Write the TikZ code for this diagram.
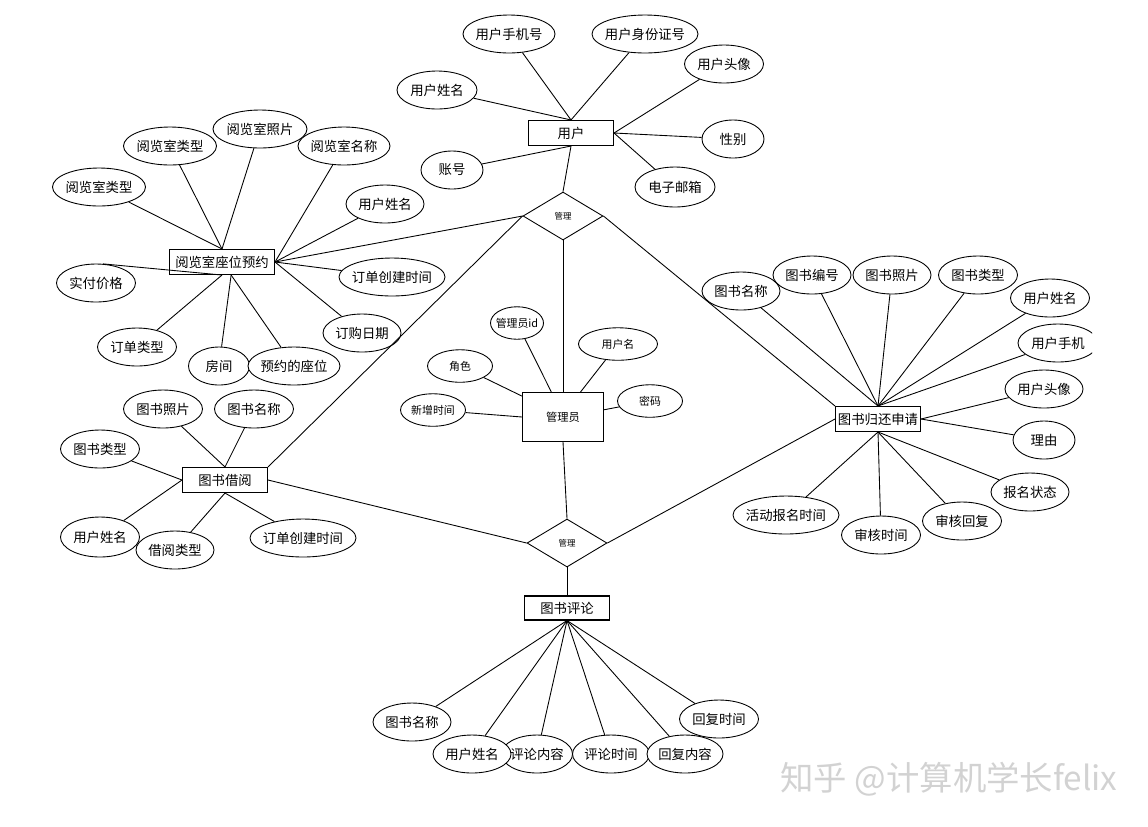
\documentclass[tikz,border=0pt]{standalone}
\usepackage{fontspec}
\setmainfont{Noto Sans CJK SC}
\usetikzlibrary{positioning}
\usetikzlibrary{shapes.geometric}

\tikzset{
  attr/.style={ellipse, draw, fill=white, line width=0.5pt, inner xsep=-2pt, inner ysep=0pt,
    minimum width=#1*0.02cm, minimum height=0.76cm, font=\fontsize{7.6}{8}\selectfont},
  attr/.default=79,
  sattr/.style={attr=#1, minimum height=0.65cm, font=\fontsize{6.2}{7}\selectfont},
  sattr/.default=79,
  ent/.style={rectangle, draw, fill=white, line width=0.6pt, inner sep=0pt,
    minimum width=1.7cm, minimum height=0.5cm, font=\fontsize{7.6}{8}\selectfont},
  rel/.style={diamond, draw, fill=white, line width=0.5pt, inner sep=0pt,
    minimum width=1.6cm, minimum height=0.96cm, font=\fontsize{4.8}{5}\selectfont},
  link/.style={line width=0.5pt},
}

\begin{document}
\begin{tikzpicture}[x=0.02cm, y=-0.02cm]
    \useasboundingbox (0,0) rectangle (1148,826);

    % entities and relations
    \node[ent] (user) at (571,133) {用户};
    \node[rel] (m1) at (563,216) {管理};
    \node[ent, minimum width=1.62cm, minimum height=0.98cm, font=\fontsize{6.4}{7}\selectfont] (admin) at (563,417) {管理员};
    \node[rel] (m2) at (567,543) {管理};
    \node[ent, minimum width=2.1cm] (rs) at (222,262) {阅览室座位预约};
    \node[ent] (br) at (225,480) {图书借阅};
    \node[ent] (rt) at (878,419) {图书归还申请};
    \node[ent, minimum height=0.48cm] (cm) at (567,608) {图书评论};

    % user
    \node[attr=92] (u1) at (509,34) {用户手机号};
    \node[attr=106] (u2) at (645,34) {用户身份证号};
    \node[attr] (u3) at (724,64) {用户头像};
    \node[attr=80] (u4) at (437,90) {用户姓名};
    \node[attr=62] (u5) at (733,139) {性别};
    \node[attr=62] (u6) at (452,170) {账号};
    \node[attr=80, minimum height=0.8cm] (u7) at (675,187) {电子邮箱};

    % reading room
    \node[attr=93] (r1) at (170,146) {阅览室类型};
    \node[attr=94] (r2) at (260,129) {阅览室照片};
    \node[attr=92] (r3) at (344,146) {阅览室名称};
    \node[attr=93] (r4) at (99,187) {阅览室类型};
    \node[attr=78] (r5) at (385,204) {用户姓名};
    \node[attr=106] (r6) at (392,277) {订单创建时间};
    \node[attr] (r7) at (96,283) {实付价格};
    \node[attr=78] (r8) at (362,333) {订购日期};
    \node[attr] (r9) at (137,347) {订单类型};
    \node[attr=61] (r10) at (219,366) {房间};
    \node[attr=92] (r11) at (294,366) {预约的座位};

    % admin
    \node[sattr=53] (a1) at (517,323) {管理员id};
    \node[sattr] (a2) at (618,344) {用户名};
    \node[sattr=65] (a3) at (460,366) {角色};
    \node[sattr=65] (a4) at (433,410) {新增时间};
    \node[sattr=65] (a5) at (650,401) {密码};

    % borrow
    \node[attr] (b1) at (163,409) {图书照片};
    \node[attr] (b2) at (254,409) {图书名称};
    \node[attr] (b3) at (100,449) {图书类型};
    \node[attr, minimum height=0.8cm] (b4) at (100,537) {用户姓名};
    \node[attr=78] (b5) at (175,550) {借阅类型};
    \node[attr=106] (b6) at (303,538) {订单创建时间};

    % return
    \node[attr=78] (t2) at (812,275) {图书编号};
    \node[attr=78] (t1) at (741,291) {图书名称};
    \node[attr=78] (t3) at (892,275) {图书照片};
    \node[attr] (t4) at (978,275) {图书类型};
    \node[attr] (t5) at (1050,298) {用户姓名};
    \begin{scope}
        \clip (0,0) rectangle (1092,826);
        \node[attr=80] (t6) at (1058,343) {用户手机};
    \end{scope}
    \node[attr=78] (t7) at (1044,389) {用户头像};
    \node[attr=62] (t8) at (1044,440) {理由};
    \node[attr=78] (t9) at (1030,492) {报名状态};
    \node[attr] (t10) at (962,521) {审核回复};
    \node[attr] (t11) at (881,535) {审核时间};
    \node[attr=106] (t12) at (786,515) {活动报名时间};

    % comment
    \node[attr=71] (c3) at (537,754) {评论内容};
    \node[attr=78] (c1) at (412,722) {图书名称};
    \node[attr=78] (c2) at (472,754) {用户姓名};
    \node[attr=77] (c4) at (611,754) {评论时间};
    \node[attr] (c6) at (719,719) {回复时间};
    \node[attr=76] (c5) at (685,754) {回复内容};

    \node[text=gray!35, font=\fontsize{19}{20}\selectfont] (wm) at (949,779) {知乎 @计算机学长felix};

    % links
    \draw[link] (user.south) -- (m1.north);
    \draw[link] (m1.south) -- (admin.north);
    \draw[link] (m1.west) -- (rs.east);
    \draw[link] (m1.west) -- (br.north east);
    \draw[link] (m1.east) -- (rt.north west);
    \draw[link] (admin.south) -- (m2.north);
    \draw[link] (m2.west) -- (br.east);
    \draw[link] (m2.east) -- (rt.west);
    \draw[link] (m2.south) -- (cm.north);

    \foreach \a/\b in {u1/user.north, u2/user.north, u4/user.north, u3/user.east,
        u5/user.east, u7/user.east, u6/user.south,
        r1/rs.north, r2/rs.north, r4/rs.north, r3/rs.east, r5/rs.east, r6/rs.east,
        r8/rs.east, r7.70/rs.south, r9/rs.south, r10/rs.-55, r11/rs.-55,
        a1/admin.115, a2/admin.55, a3/admin.153, a4/admin.west, a5/admin.10,
        b1/br.north, b2/br.north, b3/br.west, b4/br.west, b5/br.south, b6/br.south,
        t1/rt.north, t2/rt.north, t3/rt.north, t4/rt.north, t5/rt.north, t6/rt.north,
        t7/rt.east, t8/rt.east, t9/rt.south, t10/rt.south, t11/rt.south, t12/rt.south,
        c1/cm.south, c2/cm.south, c3/cm.south, c4/cm.south, c5/cm.south, c6/cm.south}
        \draw[link] (\a) -- (\b);
\end{tikzpicture}
\end{document}
